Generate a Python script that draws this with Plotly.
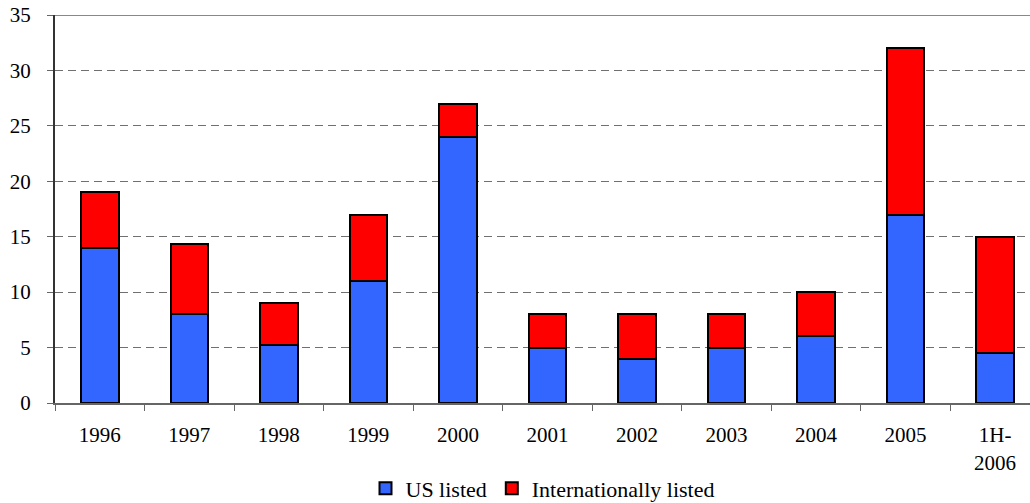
import plotly.graph_objects as go

categories = ["1996", "1997", "1998", "1999", "2000", "2001", "2002", "2003", "2004", "2005", "1H-<br>2006"]
us_listed = [14, 8, 5.2, 11, 24, 5, 4, 5, 6, 17, 4.5]
intl_listed = [5, 6.3, 3.8, 6, 3, 3, 4, 3, 4, 15, 10.5]
y_ticks = [0, 5, 10, 15, 20, 25, 30, 35]

FONT = "Liberation Serif, Times New Roman, serif"

fig = go.Figure()
fig.add_trace(go.Bar(
    x=categories, y=us_listed, name="US listed",
    marker=dict(color="#3366FF", line=dict(color="black", width=2)),
    width=0.42,
))
fig.add_trace(go.Bar(
    x=categories, y=intl_listed, name="Internationally listed",
    marker=dict(color="#FF0000", line=dict(color="black", width=2)),
    width=0.42,
))

fig.update_layout(
    barmode="stack",
    width=1030, height=503,
    margin=dict(l=55, r=0, t=15, b=100, autoexpand=False),
    paper_bgcolor="white", plot_bgcolor="white",
    font=dict(family=FONT, size=21, color="black"),
    showlegend=True,
    legend=dict(orientation="h", x=0.5, xanchor="center", y=-0.22, yanchor="middle",
                traceorder="normal",
                font=dict(family=FONT, size=22, color="black"),
                tracegroupgap=0),
)
fig.update_xaxes(
    type="category", range=[-0.5, 10.39], automargin=False,
    showline=True, linecolor="#666666", linewidth=2,
    ticks="outside", tickson="boundaries", ticklen=6, tickcolor="#666666", tickwidth=1,
    ticklabelstandoff=12,
    showgrid=False, zeroline=False,
    tickfont=dict(family=FONT, size=21, color="black"),
)
fig.update_yaxes(
    range=[0, 35], tickvals=y_ticks, automargin=False,
    showline=True, linecolor="#333333", linewidth=2,
    ticks="outside", ticklen=6, tickcolor="#666666", tickwidth=1,
    ticklabelstandoff=12,
    showgrid=True, gridcolor="#707070", gridwidth=1, griddash="8px,5px",
    zeroline=False,
    tickfont=dict(family=FONT, size=21, color="black"),
)
fig.add_shape(type="line", xref="paper", yref="y", x0=0, x1=1, y0=35, y1=35,
              line=dict(color="#888888", width=2))

fig.write_html("out.html", config={"displayModeBar": False},
               post_script="document.body.style.margin='0';document.body.style.overflow='hidden';")
